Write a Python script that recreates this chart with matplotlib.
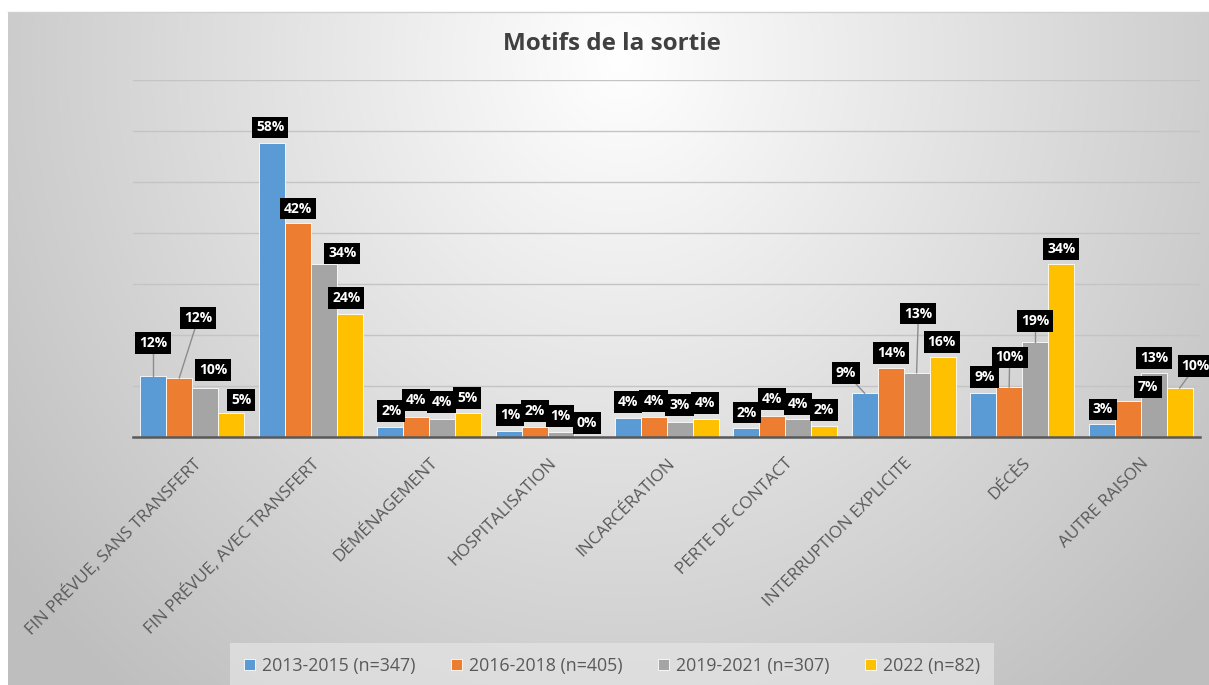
import numpy as np
import matplotlib
matplotlib.use("Agg")
import matplotlib.pyplot as plt
from matplotlib.lines import Line2D

# ---------------- data ----------------
categories = [
    "FIN PRÉVUE, SANS TRANSFERT",
    "FIN PRÉVUE, AVEC TRANSFERT",
    "DÉMÉNAGEMENT",
    "HOSPITALISATION",
    "INCARCÉRATION",
    "PERTE DE CONTACT",
    "INTERRUPTION EXPLICITE",
    "DÉCÈS",
    "AUTRE RAISON",
]
series_names = [
    "2013-2015 (n=347)",
    "2016-2018 (n=405)",
    "2019-2021 (n=307)",
    "2022 (n=82)",
]
s2013_2015 = [12.0, 57.7, 2.0, 1.2, 3.7, 1.8, 8.6, 8.6, 2.6]
s2016_2018 = [11.6, 41.9, 4.0, 2.0, 3.9, 4.1, 13.6, 9.8, 7.0]
s2019_2021 = [9.7, 33.9, 3.6, 1.0, 2.9, 3.6, 12.6, 18.6, 12.6]
s2022 = [4.8, 24.2, 4.8, 0.0, 3.6, 2.2, 15.6, 33.9, 9.6]
series_values = [s2013_2015, s2016_2018, s2019_2021, s2022]

# ---------------- style / layout ----------------
colors = ["#5B9BD5", "#ED7D31", "#A5A5A5", "#FFC000"]
FONT = ["Open Sans", "DejaVu Sans"]
plt.rcParams["font.family"] = FONT

W, H = 1209, 685
# label offsets: horizontal (px) and vertical (% units) from each bar top
label_dx_px = [
    [0, 19, 8, 10],
    [-1.6, 0, 18.4, -3.6],
    [0.8, 0, -0.9, -1.3],
    [1.2, 0, -0.8, 0],
    [0.9, 0, 0, -0.9],
    [0.8, 0, 0, 0],
    [-19, 0.7, 1.8, -0.9],
    [1.3, 0.5, 0, 0],
    [1.1, 20.5, 0.4, 16],
]
label_dy = [
    [6.4, 11.7, 3.4, 2.4],
    [3.0, 2.9, 2.1, 3.0],
    [3.1, 3.2, 3.2, 2.9],
    [3.1, 3.1, 3.1, 2.8],
    [3.1, 3.2, 3.4, 3.0],
    [3.0, 3.3, 2.9, 3.1],
    [4.0, 2.8, 11.6, 3.0],
    [3.2, 5.8, 4.2, 3.0],
    [2.8, 2.8, 2.9, 4.3],
]
leaders = [
    [1, 1, 0, 0],
    [0, 0, 0, 0],
    [0, 0, 0, 0],
    [0, 0, 0, 0],
    [0, 0, 0, 0],
    [0, 0, 0, 0],
    [1, 0, 1, 0],
    [0, 1, 1, 0],
    [0, 0, 0, 1],
]

fig = plt.figure(figsize=(W / 100, H / 100), dpi=100)
fig.patch.set_facecolor("white")

# gradient background of the chart area
bg = fig.add_axes([8 / W, 0, 1 - 8 / W, (H - 12) / H])
bg.set_axis_off()
yy, xx = np.mgrid[12:H:1.0, 8:W:1.0]
r = np.sqrt(((xx - 620) / 600.0) ** 2 + ((yy - 60) / 640.0) ** 2)
val = np.clip(255 - 50 * r, 190, 255) / 255.0
img = np.dstack([val, val, val])
bg.imshow(img, aspect="auto", extent=[0, 1, 0, 1], origin="upper")
bg.set_xlim(0, 1)
bg.set_ylim(0, 1)
fig.add_artist(Line2D([8 / W, 1], [(H - 12) / H, (H - 12) / H],
                      color="#d0d0d0", lw=1, transform=fig.transFigure))

# main axes
left, right = 133 / W, 1200 / W
bottom, top = (H - 437) / H, (H - 80) / H
ax = fig.add_axes([left, bottom, right - left, top - bottom])
ax.patch.set_visible(False)
ax.set_xlim(-0.5, len(categories) - 0.5)
ax.set_ylim(0, 70)

cat_px = (1200 - 133) / len(categories)
bw = 26 / cat_px
x = np.arange(len(categories))
bars = []
for j, (vals, col, name) in enumerate(zip(series_values, colors, series_names)):
    b = ax.bar(x + (j - 1.5) * bw, vals, width=bw, color=col,
               edgecolor="white", linewidth=0.6, label=name, zorder=3)
    bars.append(b)

ax.set_yticks(np.arange(0, 71, 10))
ax.yaxis.grid(True, color="#c4c4c4", lw=1, zorder=0)
ax.tick_params(axis="y", length=0, labelleft=False)
for s in ["top", "right", "left"]:
    ax.spines[s].set_visible(False)
ax.spines["bottom"].set_color("#595959")
ax.spines["bottom"].set_linewidth(1.8)
ax.spines["bottom"].set_zorder(4)

ax.set_xticks(x)
ax.set_xticklabels(categories, rotation=45, ha="right", va="top",
                   rotation_mode="anchor", fontsize=12.4, color="#595959")
ax.tick_params(axis="x", length=0, pad=13)

# data labels
for i in range(len(categories)):
    for j in range(4):
        v = series_values[j][i]
        bx = x[i] + (j - 1.5) * bw
        lx = bx + label_dx_px[i][j] / cat_px
        ly = v + label_dy[i][j]
        if leaders[i][j]:
            ax.plot([bx, lx], [v, ly], color="#8c8c8c", lw=1, zorder=4,
                    clip_on=False)
        ax.text(lx, ly, f"{v:.0f}%", ha="center", va="center",
                color="white", fontsize=10, fontweight="bold", zorder=6,
                clip_on=False,
                bbox=dict(boxstyle="square,pad=0.28", fc="black", ec="none"))

# title
fig.text(612 / W, 1 - 44 / H, "Motifs de la sortie", ha="center", va="center",
         fontsize=17.5, fontweight="bold", color="#404040")

# legend
leg = fig.legend(handles=bars, labels=series_names, loc="center",
                 bbox_to_anchor=(612 / W, 1 - 666 / H), ncol=4, frameon=True,
                 fontsize=12.8, handlelength=0.6, handleheight=0.6,
                 handletextpad=0.4, columnspacing=2.0, borderpad=0.5)
leg.get_frame().set_facecolor("#e4e4e4")
leg.get_frame().set_edgecolor("none")
leg.get_frame().set_alpha(0.7)
leg.get_frame().set_boxstyle("square")
for t in leg.get_texts():
    t.set_color("#595959")

fig.savefig("out.png", dpi=100)
